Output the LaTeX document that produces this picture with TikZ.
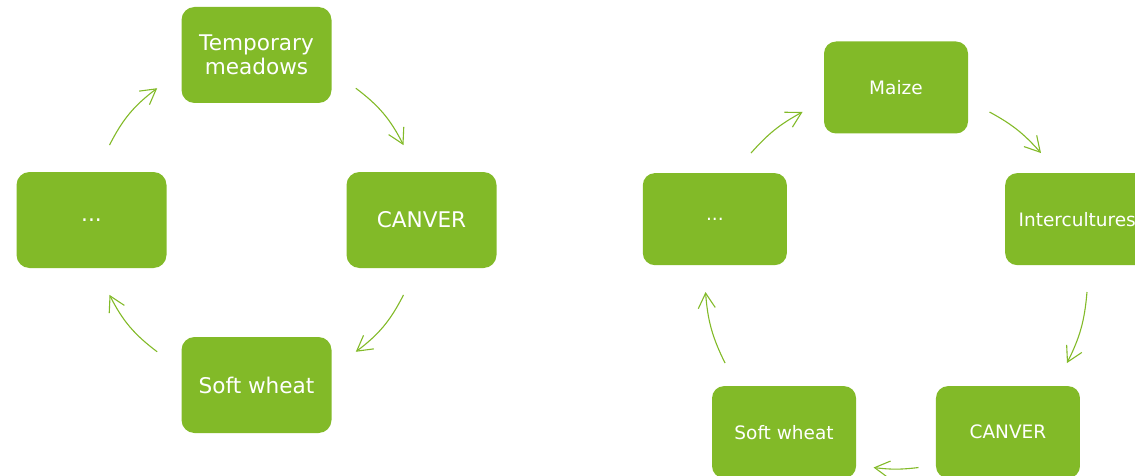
\documentclass[tikz,border=0pt]{standalone}
\usepackage{fontspec}
\setmainfont{DejaVu Sans}
\usetikzlibrary{arrows.meta}
\definecolor{leaf}{HTML}{82BA28}

\begin{document}
\begin{tikzpicture}[x=1pt, y=1pt,
  cropbox/.style={rectangle, fill=leaf, text=white, align=center, inner sep=0pt},
  leftbox/.style={cropbox, rounded corners=13pt, minimum width=150pt, minimum height=96pt, font=\fontsize{21.6}{23.5}\selectfont},
  rightbox/.style={cropbox, rounded corners=12pt, minimum width=144pt, minimum height=92pt, font=\fontsize{18.5}{21}\selectfont},
  cycarrow/.style={draw=leaf, line width=1.1pt, -{Straight Barb[length=15pt, width=17pt]}}]
  \useasboundingbox (0,0) rectangle (1135,-476);
  \begin{scope}[shift={(256.5,-220)}]
    \node[leftbox] (TM) at (90:165) {Temporary\\meadows};
    \node[leftbox] (CV) at (0:165) {CANVER};
    \node[leftbox] (SW) at (270:165) {Soft wheat};
    \node[leftbox] (DT) at (180:165) {...};
  \end{scope}
  \draw[cycarrow] ([shift={(99.3,-33.2)}]TM.center) to[bend left=13] ([shift={(-18,74.9)}]CV.center);
  \draw[cycarrow] ([shift={(-18,-74.9)}]CV.center) to[bend left=13] ([shift={(99.3,33.2)}]SW.center);
  \draw[cycarrow] ([shift={(-99.3,33.2)}]SW.center) to[bend left=13] ([shift={(18,-74.9)}]DT.center);
  \draw[cycarrow] ([shift={(18,74.9)}]DT.center) to[bend left=13] ([shift={(-99.3,-33.2)}]TM.center);
  \begin{scope}[shift={(896,-278)}]
    \node[rightbox] (MA) at (90:190.5) {Maize};
    \node[rightbox] (IC) at (18:190.5) {Intercultures};
    \node[rightbox] (CN) at (-54:190.5) {CANVER};
    \node[rightbox] (WH) at (-126:190.5) {Soft wheat};
    \node[rightbox] (DS) at (162:190.5) {...};
  \end{scope}
  \draw[cycarrow] ([shift={(93.5,-24.5)}]MA.center) to[bend left=10] ([shift={(-36.2,66.1)}]IC.center);
  \draw[cycarrow] ([shift={(9.8,-72.9)}]IC.center) to[bend left=11] ([shift={(59,69.1)}]CN.center);
  \draw[cycarrow] ([shift={(-89.5,-35.4)}]CN.center) to[bend left=7] ([shift={(89.5,-35.4)}]WH.center);
  \draw[cycarrow] ([shift={(-59,69.1)}]WH.center) to[bend left=11] ([shift={(-9.3,-72.9)}]DS.center);
  \draw[cycarrow] ([shift={(36.2,66.1)}]DS.center) to[bend left=10] ([shift={(-93.5,-24.5)}]MA.center);
\end{tikzpicture}
\end{document}
